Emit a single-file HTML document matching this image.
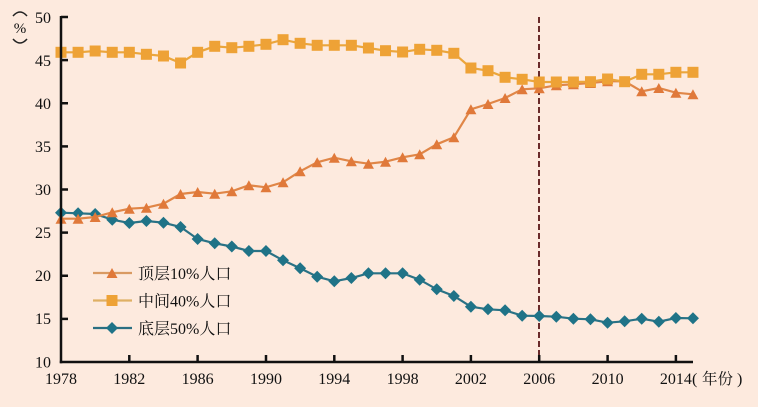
<!DOCTYPE html>
<html><head><meta charset="utf-8"><style>
html,body{margin:0;padding:0;background:#fdeade;}
svg{display:block;}
text{font-family:"Liberation Serif","Noto Serif CJK SC",serif;fill:#111;}
</style></head><body>
<svg width="758" height="407" viewBox="0 0 758 407" xmlns="http://www.w3.org/2000/svg">
<defs>
<marker id="msq" markerUnits="userSpaceOnUse" markerWidth="14" markerHeight="14" refX="7" refY="7" viewBox="0 0 14 14" overflow="visible"><rect x="1.5" y="1.5" width="11" height="11" fill="#eea236"/></marker>
<marker id="mtr" markerUnits="userSpaceOnUse" markerWidth="14" markerHeight="14" refX="7" refY="7" viewBox="0 0 14 14" overflow="visible"><polygon points="7,2 12.5,12 1.5,12" fill="#e0793a"/></marker>
<marker id="mdi" markerUnits="userSpaceOnUse" markerWidth="14" markerHeight="14" refX="7" refY="7" viewBox="0 0 14 14" overflow="visible"><polygon points="7,1 13,7 7,13 1,7" fill="#1f7387"/></marker>
</defs>
<rect width="758" height="407" fill="#fdeade"/>

<line x1="539" y1="17" x2="539" y2="362" stroke="#6a2b2b" stroke-width="2" stroke-dasharray="6,3"/>

<polyline fill="none" stroke="#2a7285" stroke-width="2.2" marker-start="url(#mdi)" marker-mid="url(#mdi)" marker-end="url(#mdi)" points="61,212.7 78.08,213.3 95.16,214 112.24,219.7 129.32,223 146.4,221 163.48,222.7 180.56,227 197.64,239 214.72,243.3 231.8,246.5 248.88,251 265.96,251 283.04,260.3 300.12,268.3 317.2,276.7 334.28,281.3 351.36,278 368.44,273.3 385.52,273.3 402.6,273.3 419.68,279.7 436.76,289.3 453.84,296 470.92,306.7 488,309.3 505.08,310.3 522.16,315.7 539.24,316 556.32,316.7 573.4,318.7 590.48,319.3 607.56,322.7 624.64,321.3 641.72,318.7 658.8,321.7 675.88,318 692.96,318.3"/>
<polyline fill="none" stroke="#e08647" stroke-width="2.2" marker-start="url(#mtr)" marker-mid="url(#mtr)" marker-end="url(#mtr)" points="61,218.7 78.08,218.7 95.16,217 112.24,212.3 129.32,208.7 146.4,207.7 163.48,203.7 180.56,194 197.64,192 214.72,193.7 231.8,191.3 248.88,185.3 265.96,187.3 283.04,182.3 300.12,171.3 317.2,162.3 334.28,157.7 351.36,161.3 368.44,163.7 385.52,161.7 402.6,157.3 419.68,154.3 436.76,144.3 453.84,137.3 470.92,109.3 488,104 505.08,98 522.16,89.3 539.24,88.3 556.32,85.3 573.4,84.3 590.48,83 607.56,81.3 624.64,81.3 641.72,91.3 658.8,88 675.88,92.7 692.96,94.3"/>
<polyline fill="none" stroke="#eba63c" stroke-width="2.2" marker-start="url(#msq)" marker-mid="url(#msq)" marker-end="url(#msq)" points="61,52.3 78.08,52.3 95.16,51 112.24,52.3 129.32,52.3 146.4,54.3 163.48,56 180.56,63 197.64,52.3 214.72,46.3 231.8,47.7 248.88,46.3 265.96,44.3 283.04,39.7 300.12,43.3 317.2,45.3 334.28,45.3 351.36,45.3 368.44,48 385.52,50.7 402.6,52 419.68,49.3 436.76,50.3 453.84,53.3 470.92,68 488,70.7 505.08,77.3 522.16,79.3 539.24,82 556.32,82 573.4,82 590.48,81.7 607.56,79 624.64,81.7 641.72,74.3 658.8,74.3 675.88,72.3 692.96,72.3"/>

<g stroke="#111" stroke-width="2.5" fill="none">
<line x1="61" y1="16" x2="61" y2="363.2"/>
<line x1="59.8" y1="362" x2="693" y2="362"/>
<line x1="61" y1="17" x2="68" y2="17"/>
<line x1="61" y1="60.1" x2="68" y2="60.1"/>
<line x1="61" y1="103.25" x2="68" y2="103.25"/>
<line x1="61" y1="146.4" x2="68" y2="146.4"/>
<line x1="61" y1="189.5" x2="68" y2="189.5"/>
<line x1="61" y1="232.6" x2="68" y2="232.6"/>
<line x1="61" y1="275.75" x2="68" y2="275.75"/>
<line x1="61" y1="318.9" x2="68" y2="318.9"/>
<line x1="129.3" y1="355" x2="129.3" y2="362"/>
<line x1="197.6" y1="355" x2="197.6" y2="362"/>
<line x1="266" y1="355" x2="266" y2="362"/>
<line x1="334.3" y1="355" x2="334.3" y2="362"/>
<line x1="402.6" y1="355" x2="402.6" y2="362"/>
<line x1="470.9" y1="355" x2="470.9" y2="362"/>
<line x1="539.2" y1="355" x2="539.2" y2="362"/>
<line x1="607.6" y1="355" x2="607.6" y2="362"/>
<line x1="675.9" y1="355" x2="675.9" y2="362"/>
</g>

<g font-size="16" text-anchor="end">
<text x="51" y="23">50</text>
<text x="51" y="66">45</text>
<text x="51" y="109">40</text>
<text x="51" y="152">35</text>
<text x="51" y="195">30</text>
<text x="51" y="238">25</text>
<text x="51" y="281">20</text>
<text x="51" y="324">15</text>
<text x="51" y="367.5">10</text>
</g>
<g font-size="16" text-anchor="middle">
<text x="61" y="384">1978</text>
<text x="129.3" y="384">1982</text>
<text x="197.6" y="384">1986</text>
<text x="266" y="384">1990</text>
<text x="334.3" y="384">1994</text>
<text x="402.6" y="384">1998</text>
<text x="470.9" y="384">2002</text>
<text x="539.2" y="384">2006</text>
<text x="607.6" y="384">2010</text>
<text x="675.9" y="384">2014</text>
</g>
<text x="692" y="384" font-size="16">(</text>
<text x="702" y="384" font-size="15.5">年份</text>
<text x="737" y="384" font-size="16">)</text>

<path d="M13,16 Q20,8 27,16" stroke="#222" stroke-width="1.5" fill="none"/>
<path d="M13,39 Q20,47 27,39" stroke="#222" stroke-width="1.5" fill="none"/>
<text x="20" y="33" font-size="15" text-anchor="middle">%</text>

<line x1="93" y1="273" x2="132" y2="273" stroke="#d99a62" stroke-width="2.2"/>
<polygon points="112,268 117.5,278 106.5,278" fill="#e0793a"/>
<text x="138" y="279" font-size="16">顶层10%人口</text>
<line x1="93" y1="300.5" x2="132" y2="300.5" stroke="#dfb064" stroke-width="2.2"/>
<rect x="106.5" y="295" width="11" height="11" fill="#eea236"/>
<text x="138" y="306.5" font-size="16">中间40%人口</text>
<line x1="93" y1="328" x2="132" y2="328" stroke="#2a6f82" stroke-width="2.2"/>
<polygon points="112,322 118,328 112,334 106,328" fill="#1f7387"/>
<text x="138" y="334" font-size="16">底层50%人口</text>
</svg>
</body></html>
